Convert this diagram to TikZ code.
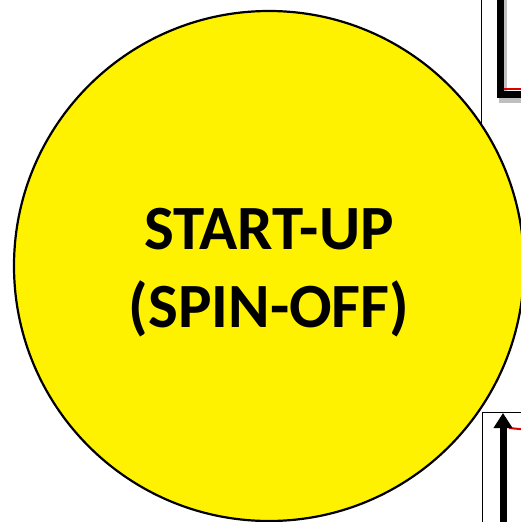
\documentclass[tikz,border=0pt]{standalone}
\usepackage{fontspec}
\setmainfont{Carlito}
\usetikzlibrary{arrows.meta}
\tikzset{
  startup/.style={circle, draw=black, line width=2.2pt, fill=yellow,
    minimum size=510pt, inner sep=0pt},
  startuptext/.style={align=center, inner sep=0pt,
    font=\fontsize{63}{78}\selectfont\bfseries},
  frame/.style={draw=black, line width=0.8pt},
  barshadow/.style={line width=8pt, black!25}
}
\begin{document}
\begin{tikzpicture}[x=1pt, y=-1pt, line cap=butt, line join=miter]
  \useasboundingbox (0,0) rectangle (521,522);
  \clip (0,0) rectangle (521,522);

  % Frames of the neighbouring boxes (right edge)
  \draw[frame] (481,0) -- (481,130);
  \draw[frame] (535,412) -- (482,412) -- (482,530);

  % Upper neighbour: bracket with red line
  \draw[barshadow] (503,-5) -- (503,99) -- (530,99);
  \draw[line width=7pt, black] (500,-5) -- (500,94) -- (530,94);
  \draw[line width=2pt, red!85!black] (504,89) -- (530,89);

  % Lower neighbour: arrow pointing up with red line
  \coordinate (arrowfoot) at (503,530);
  \coordinate (arrowtip) at (503,413);
  \draw[line width=2pt, red!85!black] (509,428) -- (530,430);
  \draw[line width=7pt, black, -{Triangle[width=18pt,length=15pt]}] (arrowfoot) -- (arrowtip);

  % Start-up circle
  \node[startup] (spinoff) at (269,266) {};
  \node[startuptext] (spinofftext) at ([yshift=-7pt]spinoff.center) {START-UP\\(SPIN-OFF)};
\end{tikzpicture}
\end{document}
